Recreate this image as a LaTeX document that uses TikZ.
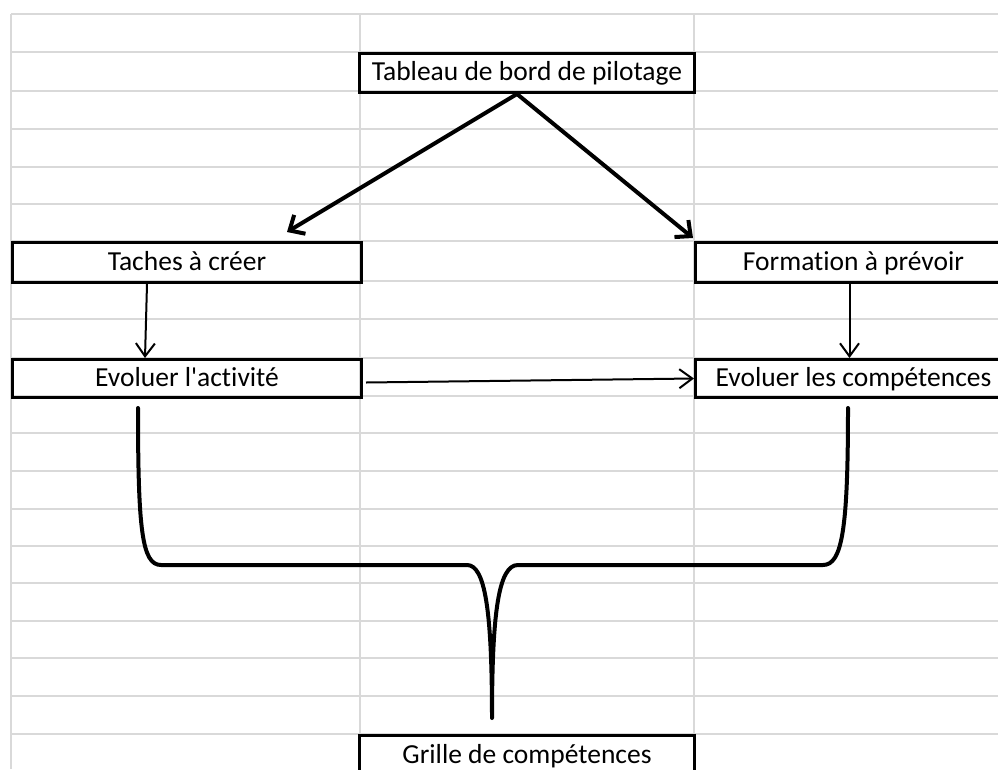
\documentclass[tikz,border=0pt]{standalone}
\usepackage{fontspec}
\setmainfont{Carlito}[Ligatures={CommonOff}]
\usetikzlibrary{arrows.meta}
\definecolor{gridgray}{RGB}{217,217,217}
\tikzset{
  box/.style={draw, line width=3pt, inner sep=0pt, anchor=north west,
    text height=19pt, text depth=4pt, font=\fontsize{27.5}{30}\selectfont},
  bigarrow/.style={line width=4pt, -{Straight Barb[length=12pt,width=22pt]}},
  smallarrow/.style={line width=2pt, -{Straight Barb[length=13pt,width=19pt]}}
}
\begin{document}
\begin{tikzpicture}[x=1pt,y=-1pt]
        \useasboundingbox (0,0) rectangle (998,769);
        \clip (0,0) rectangle (998,769);

        % spreadsheet grid
        \begin{scope}[gridgray, line width=2pt]
            \foreach \y in {14,52,91,129,167,204,241,281,319,358,396,433,471,509,546,583,621,658,696,734}
                \draw (11,\y) -- (998,\y);
            \foreach \x in {11,360,694}
                \draw (\x,14) -- (\x,769);
        \end{scope}

        \node[box, minimum width=335pt, minimum height=39pt] (pilot) at (358,52) {Tableau de bord de pilotage};
        \node[box, minimum width=349pt, minimum height=40pt] (taches) at (11,241) {Taches à créer};
        \node[box, minimum width=316pt, minimum height=40pt] (form) at (694,241) {Formation à prévoir};
        \node[box, minimum width=349pt, minimum height=38pt] (evact) at (11,358) {Evoluer l\textquotesingle activité};
        \node[box, minimum width=316pt, minimum height=38pt] (evcomp) at (694,358) {Evoluer les compétences};
        \node[box, minimum width=335pt, minimum height=40pt] (grille) at (358,734) {Grille de compétences};

        \coordinate (tachesin) at (287,232);
        \coordinate (formin) at (693,238);
        \draw[bigarrow] ([xshift=-10]pilot.south) -- (tachesin);
        \draw[bigarrow] ([xshift=-10]pilot.south) -- (formin);

        \draw[smallarrow] ([xshift=-40]taches.south) -- ([xshift=-42]evact.north);
        \draw[smallarrow] ([xshift=-4]form.south) -- ([xshift=-4]evcomp.north);
        \draw[smallarrow] ([xshift=3,yshift=-4]evact.east) -- (evcomp.west);

        % brace
        \draw[line width=4pt, line cap=round, line join=round]
            (138,408) .. controls (138,530) and (142,565) .. (161,565) -- (467,565)
            .. controls (485,565) and (492,610) .. (492,718)
            .. controls (492,610) and (499,565) .. (518,565) -- (823,565)
            .. controls (842,565) and (848,530) .. (848,408);
    \end{tikzpicture}
\end{document}
